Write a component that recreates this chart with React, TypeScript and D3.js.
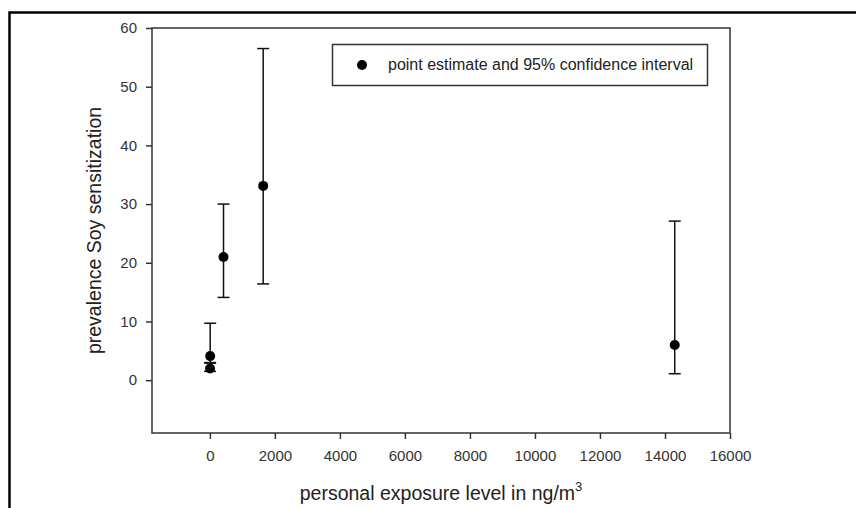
import React, { useEffect, useRef } from "react";
import * as d3 from "d3";

// exposure level (ng/m3), point estimate and 95% CI of prevalence
const exposure = [10, 5, 420, 1640, 14300];
const estimate = [4.1, 2.0, 21.0, 33.1, 6.0];
const ciLow = [2.9, 1.5, 14.1, 16.4, 1.1];
const ciHigh = [9.7, 3.0, 30.0, 56.5, 27.1];

const xTicks = [0, 2000, 4000, 6000, 8000, 10000, 12000, 14000, 16000];
const yTicks = [0, 10, 20, 30, 40, 50, 60];
const legendLabel = "point estimate and 95% confidence interval";

const App = () => {
  const ref = useRef<SVGSVGElement>(null);

  useEffect(() => {
    const svg = d3.select(ref.current);
    svg.selectAll("*").remove();

    const width = 856;
    const height = 508;
    const margin = { top: 28, right: 126, bottom: 75, left: 152 };
    const font = "'Liberation Sans', Arial, sans-serif";
    const axisColor = "#333";

    const x = d3.scaleLinear()
      .domain([-1780, 16000])
      .range([margin.left, width - margin.right]);

    const y = d3.scaleLinear()
      .domain([-9, 60])
      .range([height - margin.bottom, margin.top]);

    // outer frame (top and left only)
    svg.append("path")
      .attr("d", `M9.5,${height} V12.5 H${width}`)
      .attr("fill", "none")
      .attr("stroke", "#000")
      .attr("stroke-width", 2.5);

    // plot box
    svg.append("rect")
      .attr("x", margin.left)
      .attr("y", margin.top)
      .attr("width", width - margin.left - margin.right)
      .attr("height", height - margin.top - margin.bottom)
      .attr("fill", "none")
      .attr("stroke", axisColor)
      .attr("stroke-width", 1.5);

    const xAxis = svg.append("g")
      .attr("transform", `translate(0,${height - margin.bottom})`)
      .call(d3.axisBottom(x).tickValues(xTicks).tickSize(6).tickPadding(11).tickFormat(d3.format("d")));
    const yAxis = svg.append("g")
      .attr("transform", `translate(${margin.left},0)`)
      .call(d3.axisLeft(y).tickValues(yTicks).tickSize(6).tickPadding(9));

    [xAxis, yAxis].forEach(g => {
      g.select(".domain").remove();
      g.selectAll("line").attr("stroke", axisColor).attr("stroke-width", 1.5);
      g.selectAll("text")
        .attr("fill", "#333")
        .style("font-family", font)
        .style("font-size", "15px");
    });

    // axis titles
    const xt = svg.append("text")
      .attr("x", (margin.left + width - margin.right) / 2)
      .attr("y", 500)
      .attr("text-anchor", "middle")
      .attr("fill", "#222")
      .style("font-family", font)
      .style("font-size", "19.5px")
      .text("personal exposure level in ng/m");
    xt.append("tspan")
      .attr("dy", -9)
      .style("font-size", "13px")
      .text("3");

    svg.append("text")
      .attr("transform", `translate(101,${(margin.top + height - margin.bottom) / 2}) rotate(-90)`)
      .attr("text-anchor", "middle")
      .attr("fill", "#222")
      .style("font-family", font)
      .style("font-size", "19.5px")
      .text("prevalence Soy sensitization");

    const data = exposure.map((e, i) => ({ e, est: estimate[i], lo: ciLow[i], hi: ciHigh[i] }));
    const cap = 6;

    const bars = svg.append("g").attr("stroke", "#111").attr("stroke-width", 1.5);
    bars.selectAll("line.v").data(data).join("line")
      .attr("x1", d => x(d.e)).attr("x2", d => x(d.e))
      .attr("y1", d => y(d.lo)).attr("y2", d => y(d.hi));
    bars.selectAll("line.hi").data(data).join("line")
      .attr("x1", d => x(d.e) - cap).attr("x2", d => x(d.e) + cap)
      .attr("y1", d => y(d.hi)).attr("y2", d => y(d.hi));
    bars.selectAll("line.lo").data(data).join("line")
      .attr("x1", d => x(d.e) - cap).attr("x2", d => x(d.e) + cap)
      .attr("y1", d => y(d.lo)).attr("y2", d => y(d.lo));

    svg.append("g").selectAll("circle").data(data).join("circle")
      .attr("cx", d => x(d.e))
      .attr("cy", d => y(d.est))
      .attr("r", 5)
      .attr("fill", "#000");

    // legend
    const lg = svg.append("g");
    lg.append("rect")
      .attr("x", 332.5).attr("y", 44.5)
      .attr("width", 375).attr("height", 41)
      .attr("fill", "#fff")
      .attr("stroke", axisColor)
      .attr("stroke-width", 1.5);
    lg.append("circle").attr("cx", 362).attr("cy", 65).attr("r", 5).attr("fill", "#000");
    lg.append("text")
      .attr("x", 388).attr("y", 70)
      .attr("fill", "#222")
      .style("font-family", font)
      .style("font-size", "16px")
      .text(legendLabel);
  }, []);

  return (
    <svg ref={ref} width={856} height={508}
      style={{ position: "absolute", left: 0, top: 0, background: "#fff" }} />
  );
};

export default App;
